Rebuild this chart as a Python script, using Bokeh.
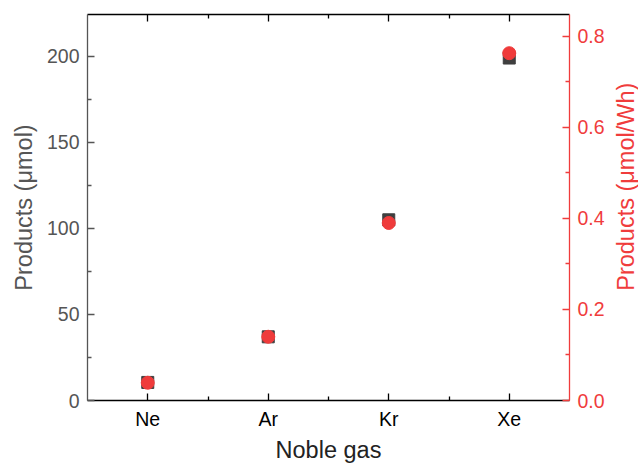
import math
from bokeh.plotting import figure
from bokeh.layouts import row
from bokeh.models import Range1d, LinearAxis, FixedTicker, PrintfTickFormatter, Label
from bokeh.embed import file_html
from bokeh.resources import INLINE

gases = ["Ne", "Ar", "Kr", "Xe"]
products_umol = [10.5, 37, 105, 199]
products_umol_per_wh = [0.039, 0.140, 0.390, 0.763]
left_ticks = [0, 50, 100, 150, 200]
left_minor = [25, 75, 125, 175]
right_ticks = [0.0, 0.2, 0.4, 0.6, 0.8]
right_minor = [0.1, 0.3, 0.5, 0.7]

FONT = "Liberation Sans"
GRAY = "#555555"
RED = "#F03C3C"
MARK_GRAY = "#3f3f3f"
MARK_RED = "#EF3B3B"

TOTAL_H = 465
TOP, BOTTOM = 14, 64

xpos = list(range(len(gases)))
x_minor = [i + 0.5 for i in xpos[:-1]]

p = figure(width=612, height=TOTAL_H, output_backend="svg", toolbar_location=None,
           x_range=Range1d(-0.5, len(gases) - 0.5), y_range=Range1d(0, 224.3),
           min_border_left=87, min_border_right=43, min_border_top=TOP, min_border_bottom=BOTTOM,
           y_axis_location=None, x_axis_location=None)
p.extra_y_ranges = {"right": Range1d(0, 0.848)}
p.xgrid.visible = False
p.ygrid.visible = False
p.outline_line_color = None
p.background_fill_color = "white"
p.border_fill_color = "white"

def style(ax, color, label_color, tick_len=7, minor_len=4):
    ax.axis_line_color = color
    ax.axis_line_width = 1.3
    ax.major_tick_line_color = color
    ax.minor_tick_line_color = color
    ax.major_tick_line_width = 1.3
    ax.minor_tick_line_width = 1.3
    ax.major_tick_in = tick_len
    ax.major_tick_out = 0
    ax.minor_tick_in = minor_len
    ax.minor_tick_out = 0
    ax.major_label_text_font = FONT
    ax.major_label_text_font_size = "19.5px"
    ax.major_label_text_color = label_color
    ax.axis_label_text_font = FONT
    ax.axis_label_text_font_size = "23.5px"
    ax.axis_label_text_font_style = "normal"
    ax.axis_label_text_color = label_color

# bottom axis
xb = LinearAxis(ticker=FixedTicker(ticks=xpos, minor_ticks=x_minor),
                major_label_overrides={i: g for i, g in zip(xpos, gases)},
                axis_label="Noble gas")
style(xb, "black", "black")
xb.axis_label_text_color = "#222222"
xb.major_label_standoff = 7
xb.axis_label_standoff = 4
p.add_layout(xb, "below")

# top axis (no labels)
xt = LinearAxis(ticker=FixedTicker(ticks=xpos, minor_ticks=x_minor),
                major_label_overrides={i: "" for i in xpos})
style(xt, "black", "black")
xt.major_label_text_font_size = "0px"
xt.major_label_standoff = 0
p.add_layout(xt, "above")

# left axis
yl = LinearAxis(ticker=FixedTicker(ticks=left_ticks, minor_ticks=left_minor),
                axis_label="Products (μmol)")
style(yl, GRAY, GRAY)
yl.major_label_standoff = 8
yl.axis_label_standoff = 7
p.add_layout(yl, "left")

# right axis (title drawn in the narrow strip figure beside it)
yr = LinearAxis(y_range_name="right",
                ticker=FixedTicker(ticks=right_ticks, minor_ticks=right_minor),
                formatter=PrintfTickFormatter(format="%.1f"))
style(yr, RED, RED)
yr.major_label_standoff = 8
p.add_layout(yr, "right")

p.scatter(xpos, products_umol, marker="square", size=12,
          fill_color=MARK_GRAY, line_color=MARK_GRAY)
p.scatter(xpos, products_umol_per_wh, marker="circle", size=13,
          fill_color=MARK_RED, line_color=MARK_RED, y_range_name="right")

# strip holding the right axis title, reading bottom-to-top
q = figure(width=26, height=TOTAL_H, output_backend="svg", toolbar_location=None,
           x_range=Range1d(0, 1), y_range=Range1d(0, TOTAL_H),
           min_border=0, x_axis_location=None, y_axis_location=None)
q.xgrid.visible = False
q.ygrid.visible = False
q.outline_line_color = None
q.background_fill_color = "white"
q.border_fill_color = "white"
frame_mid = TOTAL_H - (TOP + (TOTAL_H - TOP - BOTTOM) / 2)
q.add_layout(Label(x=0.5, y=frame_mid, text="Products (μmol/Wh)", angle=math.pi / 2,
                   text_align="center", text_baseline="middle",
                   text_font=FONT, text_font_size="23.5px", text_color=RED))

layout = row(p, q, spacing=0)
open("out.html", "w").write(file_html(layout, INLINE))
